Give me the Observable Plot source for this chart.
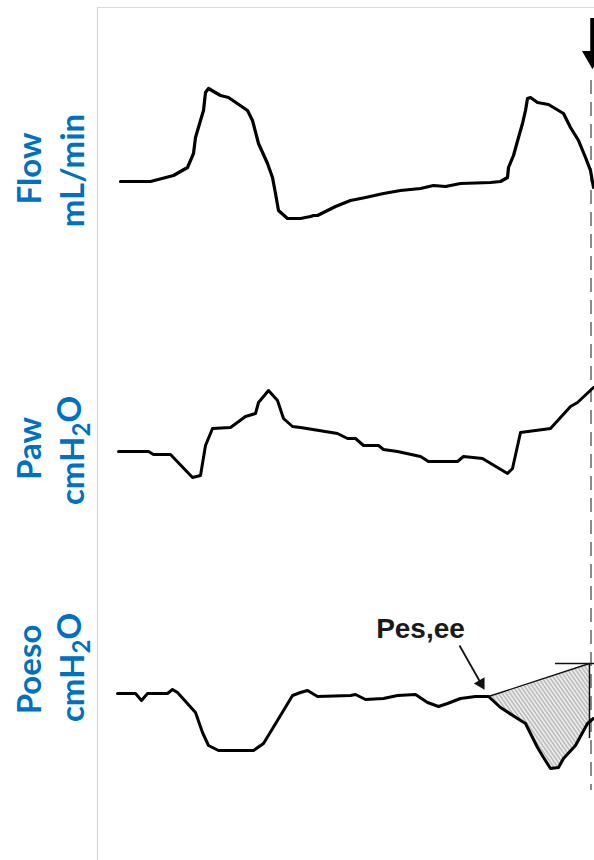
<!DOCTYPE html>
<html>
<head>
<meta charset="utf-8">
<script src="https://cdn.jsdelivr.net/npm/d3@7"></script>
<script src="https://cdn.jsdelivr.net/npm/@observablehq/plot@0.6"></script>
<style>
  html, body { margin: 0; padding: 0; background: #fff; }
  #chart { width: 594px; height: 860px; overflow: hidden; }
</style>
</head>
<body>
<div id="chart"></div>
<script>
// ---- Data (time in s, signal in arbitrary trace units, baseline = 0) ----
const flowT = [0.00,0.30,0.53,0.67,0.73,0.75,0.80,0.83,0.85,0.88,1.00,1.08,1.27,1.32,1.38,1.47,1.52,1.55,1.58,1.67,1.80,1.90,1.93,1.97,2.15,2.30,2.45,2.63,2.80,3.00,3.13,3.25,3.40,3.70,3.80,3.87,3.88,3.93,3.98,4.02,4.05,4.07,4.10,4.17,4.28,4.43,4.50,4.58,4.65,4.70,4.73];
const flowV = [0,0,6,14,28,44,61,71,89,93,86,84,71,61,38,18,4,-12,-29,-37,-37,-35,-34,-34,-25,-19,-16,-12,-9,-7,-4,-5,-2,-1,0,4,14,26,44,58,71,83,84,79,77,68,54,41,24,11,-6];

const pawT = [-0.02,0.28,0.33,0.50,0.72,0.80,0.85,0.92,1.10,1.25,1.35,1.38,1.48,1.57,1.63,1.72,1.80,2.17,2.27,2.35,2.43,2.58,2.63,2.77,3.00,3.08,3.37,3.43,3.62,3.87,3.92,4.00,4.30,4.50,4.57,4.73];
const pawV = [0,0,-3,-3,-26,-24,6,23,24,35,38,49,61,51,33,25,24,18,13,13,6,6,2,0,-5,-10,-10,-5,-7,-22,-17,19,23,45,49,64];

const poesoT = [-0.03,0.15,0.21,0.27,0.47,0.52,0.57,0.75,0.82,0.88,0.98,1.33,1.43,1.63,1.72,1.80,1.87,1.97,2.30,2.35,2.45,2.63,2.77,2.95,3.07,3.18,3.27,3.40,3.55,3.68,3.80,3.97,4.05,4.17,4.23,4.30,4.38,4.43,4.55,4.67,4.73];
const poesoV = [0,0,-7,0,0,4,1,-19,-39,-52,-57,-57,-50,-17,-2,1,3,-3,-2,-1,-6,-5,-2,-1,-9,-13,-10,-5,-3,-3,-14,-25,-30,-54,-64,-75,-74,-65,-52,-30,-25];

const traceNames = ["Flow", "Paw", "Poeso"];
const unitNames  = ["mL/min", "cmH2O", "cmH2O"];

// Pes,ee annotation (end-expiratory esophageal pressure) and end-of-cycle reference
const pesEE = {t: 3.68, v: -3};
const pesEnd = {t: 4.69, v: 30, vLow: -45, vTrace: -29};
const eventT = 4.705;    // dashed vertical event line
const arrowT = 4.72;     // top arrow

// ---- Layout constants (stacking of the three traces) ----
const offsets = {Flow: 0, Paw: -270, Poeso: -512};
const labelY = {Flow: [13, 11], Paw: [-267, -269], Poeso: [-488, -486]};

const zip = (T, V, name) => T.map((t, i) => ({t, y: V[i] + offsets[name]}));
const flow = zip(flowT, flowV, "Flow");
const paw = zip(pawT, pawV, "Paw");
const poeso = zip(poesoT, poesoV, "Poeso");

const po = offsets.Poeso;
const shade = poesoT.map((t, i) => ({t, y: poesoV[i] + po}))
  .filter(d => d.t >= pesEE.t && d.t <= 4.67)
  .concat([{t: pesEnd.t, y: pesEnd.vTrace + po}, {t: pesEnd.t, y: pesEnd.v + po}]);

const labels1 = traceNames.map(n => ({text: n, y: labelY[n][0]}));
const labels2 = traceNames.map((n, i) => ({text: unitNames[i], y: labelY[n][1]}));

const blue = "#0070C0";
const labelFont = "Lato, 'Open Sans', sans-serif";
const labelSize = 33;

const chart = Plot.plot({
  width: 594,
  height: 860,
  margin: 0,
  x: {domain: [-1.2, 4.74], range: [0, 594], axis: null},
  y: {domain: [181, -679], range: [0, 860], axis: null},
  style: {background: "#fff"},
  marks: [
    // frame
    Plot.ruleY([174], {x1: -0.23, x2: 4.74, stroke: "#d9d9d9", strokeWidth: 1.2}),
    Plot.ruleX([-0.23], {y1: 174, y2: -679, stroke: "#d9d9d9", strokeWidth: 1.2}),
    // shaded Pes area
    Plot.line(shade, {x: "t", y: "y", stroke: "none", fill: "url(#hatch)", curve: "linear"}),
    // dashed event line
    Plot.ruleX([eventT], {y1: 101, y2: -609, stroke: "#8a8a8a", strokeWidth: 2, strokeDasharray: "14,8"}),
    Plot.link([0], {x1: pesEE.t, y1: pesEE.v + po, x2: pesEnd.t, y2: pesEnd.v + po, stroke: "#111", strokeWidth: 1.4}),
    Plot.ruleX([pesEnd.t], {y1: pesEnd.v + po, y2: pesEnd.vLow + po, stroke: "#111", strokeWidth: 1.5}),
    Plot.ruleY([pesEnd.v + po], {x1: 4.35, x2: 4.74, stroke: "#111", strokeWidth: 1.4}),
    // traces
    Plot.line(flow, {x: "t", y: "y", stroke: "#000", strokeWidth: 3.2, strokeLinejoin: "round"}),
    Plot.line(paw, {x: "t", y: "y", stroke: "#000", strokeWidth: 3, strokeLinejoin: "round"}),
    Plot.line(poeso, {x: "t", y: "y", stroke: "#000", strokeWidth: 3, strokeLinejoin: "round"}),
    // top arrow
    Plot.ruleX([arrowT], {y1: 163, y2: 130, stroke: "#000", strokeWidth: 4.5}),
    Plot.dot([0], {x: arrowT, y: 124.5, symbol: "triangle", rotate: 180, r: 7.8, fill: "#000", stroke: "none"}),
    // Pes,ee annotation
    Plot.text(["Pes,ee"], {x: 3.0, y: -456, text: d => d, fontSize: 28, fontWeight: "bold",
      fontFamily: "'Liberation Sans', Arial, sans-serif", fill: "#1a1a1a", textAnchor: "middle", lineAnchor: "bottom"}),
    Plot.link([0], {x1: 3.39, y1: -464, x2: 3.605, y2: -502, stroke: "#111", strokeWidth: 1.8}),
    Plot.dot([0], {x: 3.605, y: -502, symbol: "triangle", rotate: 150, r: 4.6, fill: "#111", stroke: "none"}),
    // axis labels
    Plot.text(labels1, {x: -0.8, y: "y", text: "text", rotate: -90, fontSize: labelSize, fontWeight: "bold",
      fontFamily: labelFont, fill: blue, textAnchor: "middle", lineAnchor: "bottom"}),
    Plot.text(labels2, {x: -0.37, y: "y", text: "text", rotate: -90, fontSize: labelSize, fontWeight: "bold",
      fontFamily: labelFont, fill: blue, textAnchor: "middle", lineAnchor: "bottom"})
  ]
});

// hatch pattern
const defs = d3.select(chart).insert("defs", ":first-child");
const pat = defs.append("pattern").attr("id", "hatch").attr("patternUnits", "userSpaceOnUse")
  .attr("width", 3.2).attr("height", 3.2).attr("patternTransform", "rotate(-35)");
pat.append("rect").attr("width", 3.2).attr("height", 3.2).attr("fill", "#ececec");
pat.append("line").attr("x1", 0.8).attr("y1", 0).attr("x2", 0.8).attr("y2", 3.2)
  .attr("stroke", "#9a9a9a").attr("stroke-width", 0.9);

// subscript 2 in cmH2O
d3.select(chart).selectAll("text").each(function() {
  const el = d3.select(this);
  if (el.text() === "cmH2O") {
    el.text("");
    el.append("tspan").text("cmH");
    el.append("tspan").attr("dy", "0.28em").attr("font-size", "24").text("2");
    el.append("tspan").attr("dy", "-0.28em").text("O");
  }
});

document.getElementById("chart").appendChild(chart);
</script>
</body>
</html>
